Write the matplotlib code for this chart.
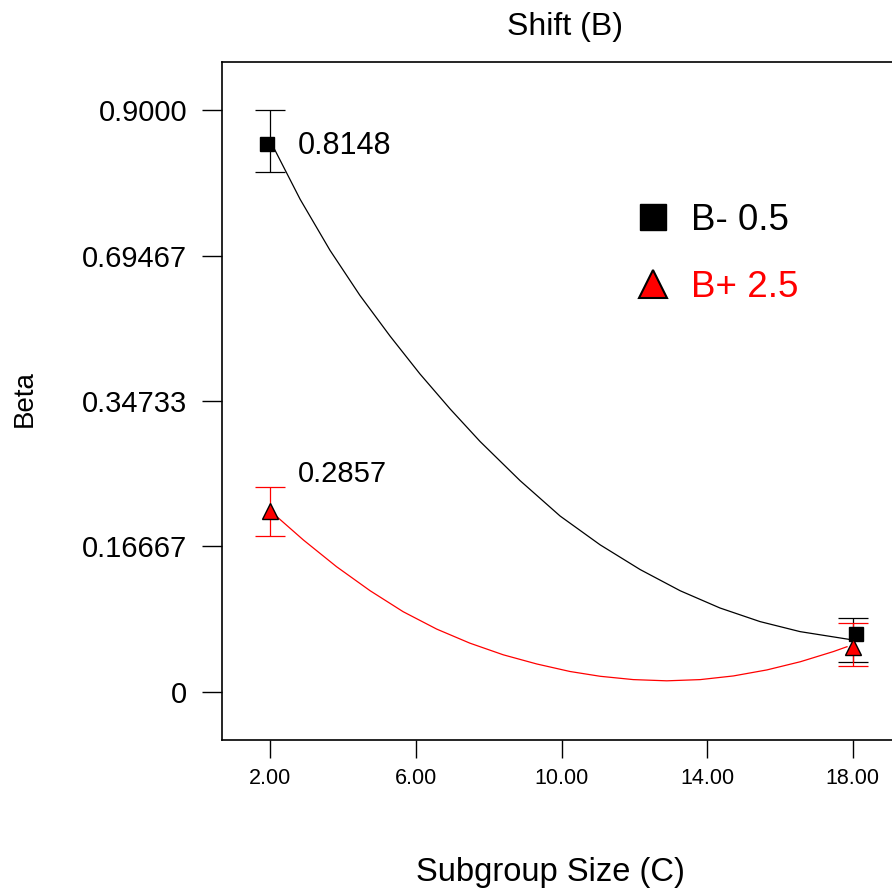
import matplotlib.pyplot as plt
import numpy as np
from matplotlib.lines import Line2D
from matplotlib.ticker import FixedLocator, FixedFormatter, FormatStrFormatter

plt.rcParams["font.family"] = ["Liberation Sans", "DejaVu Sans"]

# y axis ticks are evenly spaced on the page, labels are the beta values
beta_ticks = [0.0, 0.16667, 0.34733, 0.69467, 0.9]
beta_tick_labels = ["0", "0.16667", "0.34733", "0.69467", "0.9000"]
x_ticks = [2, 6, 10, 14, 18]

# fitted curves
black_x = [2.08, 2.82, 3.64, 4.46, 5.29, 6.11, 6.94, 7.76, 8.86, 9.96,
           11.06, 12.16, 13.26, 14.35, 15.45, 16.55, 17.93]
black_y = [0.8483, 0.7740, 0.7020, 0.5996, 0.5021, 0.4118, 0.3373, 0.2970,
           0.2483, 0.2043, 0.1685, 0.1400, 0.1157, 0.0960, 0.0804, 0.0689,
           0.0598]
red_x = [2.18, 2.91, 3.82, 4.74, 5.65, 6.57, 7.48, 8.40, 9.32, 10.23, 11.06,
         11.97, 12.89, 13.81, 14.72, 15.64, 16.56, 17.47, 17.84]
red_y = [0.2035, 0.1745, 0.1433, 0.1158, 0.0917, 0.0718, 0.0557, 0.0423,
         0.0318, 0.0232, 0.0177, 0.0139, 0.0125, 0.0139, 0.0181, 0.0250,
         0.0344, 0.0461, 0.0516]

# design points with interval bounds
pt_x = [2, 18]
black_pt_x = [1.9, 18.09]
black_pt_y = [0.8528, 0.0662]
black_lo = [0.8129, 0.0341]
black_hi = [0.9000, 0.0842]
red_pt_y = [0.2111, 0.0518]
red_lo = [0.1795, 0.0295]
red_hi = [0.2407, 0.0791]

point_labels = ["0.8148", "0.2857"]
legend_labels = ["B- 0.5", "B+ 2.5"]

# piecewise linear scale through the tick values (extended one step each side)
t_ext = np.arange(-1, len(beta_ticks) + 1)
v_ext = np.concatenate([[2 * beta_ticks[0] - beta_ticks[1]], beta_ticks,
                        [2 * beta_ticks[-1] - beta_ticks[-2]]])


def fwd(v):
    return np.interp(v, v_ext, t_ext)


def inv(t):
    return np.interp(t, t_ext, v_ext)


fig = plt.figure(figsize=(8.92, 8.90), dpi=100)
ax = fig.add_axes([222 / 892, 150 / 890, 688 / 892, 678 / 890])
ax.set_yscale("function", functions=(fwd, inv))

ax.plot(black_x, black_y, color="black", lw=0.9, zorder=2)
ax.plot(red_x, red_y, color="red", lw=0.9, zorder=2)

ax.errorbar(pt_x, black_pt_y,
            yerr=[np.subtract(black_pt_y, black_lo), np.subtract(black_hi, black_pt_y)],
            fmt="none", ecolor="black", elinewidth=0.9, capsize=10.8, capthick=0.9, zorder=3)
ax.errorbar(pt_x, red_pt_y,
            yerr=[np.subtract(red_pt_y, red_lo), np.subtract(red_hi, red_pt_y)],
            fmt="none", ecolor="red", elinewidth=0.9, capsize=10.8, capthick=0.9, zorder=3)

ax.plot(black_pt_x, black_pt_y, ls="none", marker="s", ms=9.5, color="black", zorder=4)
ax.plot(pt_x, red_pt_y, ls="none", marker="^", ms=11, mfc="red", mec="black",
        mew=1.0, zorder=4)

ax.annotate(point_labels[0], xy=(pt_x[0], black_pt_y[0]), xytext=(27, -2),
            textcoords="offset pixels", ha="left", va="center", fontsize=22)
ax.annotate(point_labels[1], xy=(pt_x[0], red_pt_y[0]), xytext=(28, 37),
            textcoords="offset pixels", ha="left", va="center", fontsize=21)

ax.set_xlim(0.673, 19.57)
ax.set_ylim(inv(-0.332), inv(4.331))

ax.xaxis.set_major_locator(FixedLocator(x_ticks))
ax.xaxis.set_major_formatter(FormatStrFormatter("%.2f"))
ax.yaxis.set_major_locator(FixedLocator(beta_ticks))
ax.yaxis.set_major_formatter(FixedFormatter(beta_tick_labels))
ax.yaxis.set_minor_locator(FixedLocator([]))
ax.tick_params(axis="x", length=13, width=1.0, pad=7, labelsize=15.5)
ax.tick_params(axis="y", length=14.5, width=1.0, pad=10.5, labelsize=21)
for s in ax.spines.values():
    s.set_linewidth(1.2)

ax.set_xlabel("Subgroup Size (C)", fontsize=23.5, va="center")
ax.xaxis.set_label_coords((550 - 222) / 688, (740 - 873) / 678)
ax.set_ylabel("Beta", fontsize=20, va="center")
ax.yaxis.set_label_coords((25 - 222) / 688, (740 - 399) / 678)

fig.text(565 / 892, 1 - 27 / 890, "Shift (B)", ha="center", va="center", fontsize=23)

handles = [
    Line2D([], [], ls="none", marker="s", ms=19, color="black"),
    Line2D([], [], ls="none", marker="^", ms=20, mfc="red", mec="black", mew=1.5),
]
leg = ax.legend(handles, legend_labels, loc="upper left",
                bbox_to_anchor=(635 / 892, 1 - 203 / 890), bbox_transform=fig.transFigure,
                frameon=False, fontsize=26.5, handlelength=1.0, handletextpad=0.52,
                labelspacing=0.86, borderpad=0, borderaxespad=0,
                labelcolor=["black", "red"])

fig.savefig("out.png", dpi=100)
